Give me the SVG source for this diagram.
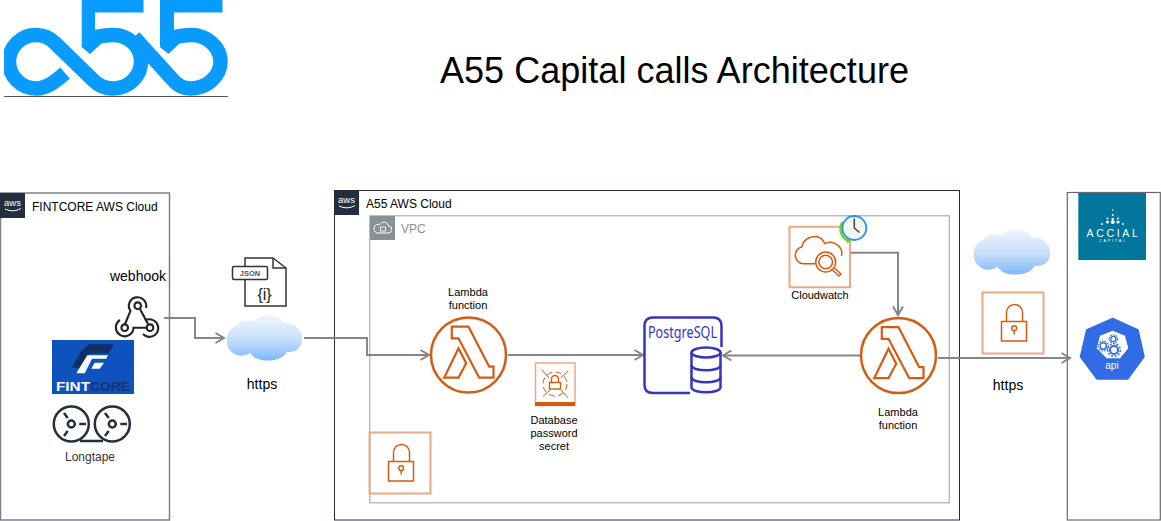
<svg xmlns="http://www.w3.org/2000/svg" xmlns:xlink="http://www.w3.org/1999/xlink" width="1161" height="521" viewBox="0 0 1161 521">
<style>
text{font-family:"Liberation Sans",Arial,sans-serif;fill:#000}
.c{text-anchor:middle}
.l11{font-size:11px}
.l12{font-size:12px}
.l14{font-size:14px}
.conn{fill:none;stroke:#868686;stroke-width:2;marker-end:url(#arrow)}
.org{fill:none;stroke:#d45b12;stroke-width:1.500}
.box{fill:none;stroke:#eba884;stroke-width:1.500}
.dark{fill:none;stroke:#232f3e;stroke-width:2}
.logo{fill:none;stroke:#0a9bff;stroke-width:14.500}
</style>
<defs>
<marker id="arrow" markerUnits="userSpaceOnUse" markerWidth="12" markerHeight="12" refX="10.500" refY="6" orient="auto"><path d="M2 1L10.500 6L2 11" fill="none" stroke="#868686" stroke-width="2"/></marker>
<linearGradient id="cloudg" x1="0" y1="0" x2="0" y2="1"><stop offset="0" stop-color="#eff6fe"/><stop offset=".55" stop-color="#c6def9"/><stop offset="1" stop-color="#7db7fb"/></linearGradient>
<clipPath id="logoclip"><rect x="4" y="0" width="226" height="96"/></clipPath>
<symbol id="lambda" viewBox="-40 -40 80 80" width="80" height="80" overflow="visible">
<circle r="37.500" fill="#fff" stroke="#d45b12" stroke-width="2.500"/>
<path d="M-16.700 -28.300H0L20.700 11.700H25V22.700H10.700L-10 -16.700H-16.700ZM-24.300 22.700L-10 -6.700L-2.300 8.300L-10 22.700Z" fill="none" stroke="#d45b12" stroke-width="2.200"/>
</symbol>
<symbol id="lockbox" viewBox="0 0 61 61" width="61" height="61" overflow="visible">
<rect x="0" y="0" width="61" height="61" class="box" style="stroke-width:2"/>
<path d="M24 29V20A8 8 0 0 1 40 20V29" class="org"/>
<rect x="19" y="29" width="25" height="19.500" class="org"/>
<circle cx="31.700" cy="35.700" r="2.400" class="org"/>
<path d="M31.700 38V42" class="org"/>
</symbol>
<symbol id="cloud" viewBox="0 0 120 80" width="76" height="46" preserveAspectRatio="none" overflow="visible">
<path d="M14 20C22 6 40 8 44 12C52 -4 84 -4 90 14C108 12 122 28 120 44C120 58 108 66 96 64C88 84 46 84 36 66C22 78 -2 66 0 44C-2 34 6 22 14 20Z" fill="url(#cloudg)"/>
<path d="M36 66L44 74M96 64L98 72" stroke="#fff" stroke-width="1.200" fill="none"/>
</symbol>
</defs>
<rect width="1161" height="521" fill="#fff"/>

<g id="logo">
<g clip-path="url(#logoclip)">
<path class="logo" d="M65 73C56 81 47 88.500 36 88.500C21 88.500 9 76 9 61.500C9 47 21 35 36 35C44 35 50 38 55 43L93 80C98 85 105 88.500 113 88.500C129 88.500 141 76 141 61.500C141 47 129 35 113 35C106 35 100 36 92 38"/>
<path class="logo" d="M134 37L172 79C176 84 183 88.500 191 88.500C207 88.500 220.500 76 220.500 61.500C220.500 47 207 35 191 35C185 35 179 36 171 38"/>
<path d="M81.700 0H143.500V12.500H95V33L102 43L90 54L81.700 47Z" fill="#0a9bff"/>
<path d="M160 0H222.500V12.500H174V33L180 43L168.500 54L160 47Z" fill="#0a9bff"/>
</g>
<path d="M4 96.500H228" stroke="#555" stroke-width="1" fill="none"/>
</g>
<text id="title" x="440" y="83" textLength="469" style="font-size:36px">A55 Capital calls Architecture</text>

<g id="fintcore-cloud">
<rect x="0.500" y="193" width="169" height="327" fill="#fff" stroke="#7c8087" stroke-width="1.500"/>
<rect x="0" y="193" width="25" height="25" fill="#232f3e"/>
<text x="12.500" y="206" class="c" style="font-size:9.500px;fill:#fff">aws</text>
<path d="M5 209Q13 213 21 208.500" stroke="#fff" fill="none"/>
<text x="32" y="211" class="l12">FINTCORE AWS Cloud</text>
</g>
<g id="a55-cloud">
<rect x="334.500" y="190.500" width="625" height="329.500" fill="#fff" stroke="#232f3e" stroke-width="1"/>
<rect x="334" y="190" width="25" height="25" fill="#232f3e"/>
<text x="346.500" y="203" class="c" style="font-size:9.500px;fill:#fff">aws</text>
<path d="M339 206Q347 210 355 205.500" stroke="#fff" fill="none"/>
<text x="366" y="208" class="l12">A55 AWS Cloud</text>
</g>
<g id="vpc">
<rect x="369.800" y="215.800" width="579.500" height="287" fill="#fff" stroke="#a9aeb2" stroke-width="1.200"/>
<rect x="370" y="216" width="25" height="24" fill="#879196"/>
<path d="M377 233H388A3.500 3.500 0 0 0 388.500 226A4.500 4.500 0 0 0 380 224.500A4 4 0 0 0 377 233Z" fill="none" stroke="#fff"/>
<rect x="380.500" y="227" width="5" height="4" fill="none" stroke="#fff" stroke-width=".8"/>
<text x="401" y="233" class="l12" style="fill:#879196">VPC</text>
</g>
<g id="accial-box">
<rect x="1067.300" y="192.500" width="93" height="327.500" fill="#fff" stroke="#6a6a6a" stroke-width="1.200"/>
</g>

<g id="connectors">
<path class="conn" d="M164 318H195V338H224"/>
<path class="conn" d="M304 338H367V355H429"/>
<path class="conn" d="M508 355H643"/>
<path class="conn" d="M860 355.500H723"/>
<path class="conn" d="M851 252.700H898V315"/>
<path class="conn" d="M938 358H1070"/>
</g>

<g id="webhook">
<text x="138" y="281" class="c l14">webhook</text>
<g fill="none" stroke="#222" stroke-width="2.100">
<circle cx="137.700" cy="305.700" r="3.300"/><circle cx="124.700" cy="327.700" r="3.300"/><circle cx="150" cy="327.700" r="3.300"/>
<path d="M125 324L130.500 311A8.700 8.700 0 1 1 146 308"/>
<path d="M140 309L148 324"/>
<path d="M120 320A8.800 8.800 0 1 0 133.500 327.700H146"/>
<path d="M143 334A8.800 8.800 0 1 0 145 320.500"/>
</g>
</g>

<g id="fintcore-logo">
<rect x="52" y="340" width="82" height="54" fill="#0e52bd"/>
<path d="M72 367.700L81.300 351L88.700 344.300H114L108.700 353.300H89.700L82.300 367.700Z" fill="#0f2f66"/>
<path d="M76.300 373.300L87.300 355.300H108L106.300 358.700H92L84.700 373.300ZM91.300 368.700L94.700 362.700H104L99.700 368.700Z" fill="#fff"/>
<text x="56" y="391" style="font-size:13.500px;font-weight:bold;fill:#fff" textLength="34" lengthAdjust="spacingAndGlyphs">FINT</text>
<text x="90" y="391" style="font-size:13.500px;font-weight:bold;fill:#16366f" textLength="40" lengthAdjust="spacingAndGlyphs">CORE</text>
</g>

<g id="longtape">
<g class="dark" style="stroke-width:2.500" fill="none">
<circle cx="71.300" cy="424" r="17.500"/><circle cx="112.300" cy="424" r="17.500"/>
<circle cx="71.300" cy="424" r="3.500"/><circle cx="112.300" cy="424" r="3.500"/>
<path d="M79.300 424H86M120.300 424H127M67.700 418L64 413M108.700 418L105 413M67.700 431L64 436M108.700 431L105 436M80 441H103"/>
</g>
<text x="90" y="461" class="c l12" style="fill:#333">Longtape</text>
</g>

<g id="json-file">
<path d="M245 266V258H273L286 268V306H245V279" fill="#fff" stroke="#333" stroke-width="1.500"/>
<path d="M273 258V268H286" fill="none" stroke="#333" stroke-width="1.500"/>
<rect x="232.500" y="266.500" width="35" height="13" rx="1.500" fill="#fff" stroke="#333" stroke-width="1.500"/>
<text x="250" y="276" class="c" style="font-size:7.500px;font-weight:bold;fill:#555">JSON</text>
<text x="264.500" y="300" class="c" style="font-size:16px;fill:#222">{i}</text>
</g>
<g id="cloud-left">
<use xlink:href="#cloud" href="#cloud" x="227" y="315" width="75" height="46"/>
<text x="262" y="389" class="c l14">https</text>
</g>

<g id="lambda-left">
<use xlink:href="#lambda" href="#lambda" x="428.500" y="315"/>
<text x="468" y="296" class="c l11"><tspan x="468">Lambda</tspan><tspan x="468" dy="13">function</tspan></text>
</g>
<g id="secret">
<rect x="535.500" y="363" width="39.500" height="42.500" class="box"/>
<rect x="535" y="402" width="40" height="4" fill="#d45b12"/>
<circle cx="555" cy="384" r="12" class="org" stroke-dasharray="6 3.500" style="stroke-width:1"/>
<path d="M541.700 369.700L549 378M561 390L568.300 398M568.300 370.700L560.500 378M550 390L543 396.500" class="org" style="stroke-width:1"/>
<rect x="549.500" y="382.500" width="11" height="6.500" class="org" style="stroke-width:1.400"/>
<path d="M551.500 382.500V379A3.500 3.500 0 0 1 558.500 379V382.500" class="org" style="stroke-width:1.400"/>
<text x="554" y="424" class="c l11"><tspan x="554">Database</tspan><tspan x="554" dy="13">password</tspan><tspan x="554" dy="13">secret</tspan></text>
</g>
<g id="lock-left"><use xlink:href="#lockbox" href="#lockbox" x="369.500" y="432.500"/></g>

<g id="postgres">
<path d="M690 393H653Q644.500 393 644.500 385V326Q644.500 317.500 653 317.500H713Q721.500 317.500 721.500 326V347" fill="none" stroke="#3535bd" stroke-width="2.500"/>
<text x="648" y="337.500" textLength="69" lengthAdjust="spacingAndGlyphs" style="font-family:'Noto Sans','Liberation Sans',sans-serif;font-size:16px;fill:#3535bd">PostgreSQL</text>
<g fill="#fff" stroke="#3535bd" stroke-width="2.500">
<path d="M691.500 352V387C691.500 394 720.500 394 720.500 387V352"/>
<ellipse cx="706" cy="352.500" rx="14.500" ry="5"/>
<path d="M691.500 365C691.500 372 720.500 372 720.500 365M691.500 377C691.500 384 720.500 384 720.500 377" fill="none"/>
</g>
</g>

<g id="cloudwatch">
<rect x="789.500" y="226.800" width="60.500" height="60.500" class="box" style="stroke-width:2"/>
<path d="M815 263.700H803A8.500 8.500 0 0 1 801.700 247C803 241 808 236.500 816.700 236.500C820 237 823 240 825 243.700C830 240 840 244 841.700 251V256" class="org"/>
<circle cx="825.700" cy="262" r="10" class="org"/><circle cx="825.700" cy="262" r="6.800" class="org"/>
<path d="M832.500 270L839 276L841 274L834.500 268" class="org"/>
<text x="820" y="299" class="c l11">Cloudwatch</text>
</g>
<g id="clock">
<path d="M842.500 222A13 13 0 0 0 848.500 241" fill="none" stroke="#7ed321" stroke-width="2.500"/>
<path d="M846 237L852 241L847 243.500Z" fill="#7ed321"/>
<circle cx="854.300" cy="228" r="12" fill="#f4f4f4" stroke="#2196f3" stroke-width="1.800"/>
<path d="M854.300 218.500V228L859.500 232.500" fill="none" stroke="#444" stroke-width="1.500"/>
</g>
<g id="lambda-right">
<use xlink:href="#lambda" href="#lambda" x="858.500" y="315.500"/>
<text x="898" y="416" class="c l11"><tspan x="898">Lambda</tspan><tspan x="898" dy="13">function</tspan></text>
</g>

<g id="cloud-right">
<use xlink:href="#cloud" href="#cloud" x="974" y="229" width="76" height="46"/>
</g>
<g id="lock-right"><use xlink:href="#lockbox" href="#lockbox" x="982.500" y="292.500"/></g>
<text id="https-right" x="1008" y="390" class="c l14">https</text>

<g id="accial">
<rect x="1078.300" y="193" width="67.700" height="67" fill="#00769c"/>
<g fill="#fff">
<circle cx="1112.700" cy="210" r=".8"/><circle cx="1112.700" cy="215" r="1"/>
<circle cx="1112.700" cy="219" r="1.200"/><circle cx="1107.500" cy="218.500" r="1"/><circle cx="1118" cy="218.500" r="1"/>
<circle cx="1112.700" cy="222" r="2"/><circle cx="1107.500" cy="222" r="1.600"/><circle cx="1118" cy="222" r="1.600"/><circle cx="1102" cy="224" r="1"/><circle cx="1123" cy="224" r="1"/>
</g>
<text x="1113.500" y="237" class="c" style="font-size:10.500px;fill:#fff;letter-spacing:2.700px">ACCIAL</text>
<text x="1113" y="242" class="c" style="font-size:3.800px;fill:#fff;letter-spacing:1.800px">CAPITAL</text>
</g>
<g id="api">
<path d="M1112.700 318.500L1138 330L1144 356.700L1127.700 379H1097L1080.500 356.700L1086.700 330Z" fill="#326ce5" stroke="#326ce5" stroke-width="1.500" stroke-linejoin="round"/>
<path d="M1112.700 330.700L1125 335.700L1128.300 348.300L1120 358.300H1106.700L1096.700 348.300L1100 335.700Z" fill="#fff"/>
<g fill="none" stroke="#326ce5">
<circle cx="1103.300" cy="346" r="3.200" stroke-width="1.400"/><circle cx="1103.300" cy="346" r="5" stroke-width="1.200" stroke-dasharray="1.500 1.200"/>
<circle cx="1113.300" cy="339" r="2.600" stroke-width="1.300"/><circle cx="1113.300" cy="339" r="4.200" stroke-width="1.200" stroke-dasharray="1.500 1.200"/>
<circle cx="1114" cy="350" r="4" stroke-width="2"/><circle cx="1114" cy="350" r="6.300" stroke-width="1.500" stroke-dasharray="2 1.500"/>
</g>
<text x="1112" y="369" class="c" style="font-size:10px;fill:#fff">api</text>
</g>
</svg>
